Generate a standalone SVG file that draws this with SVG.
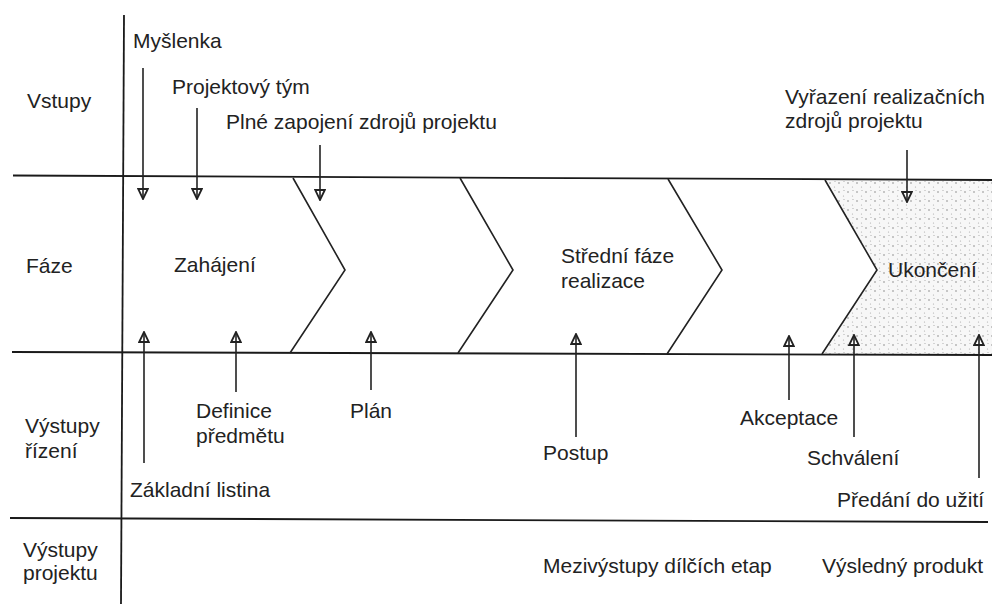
<svg xmlns="http://www.w3.org/2000/svg" width="994" height="604" viewBox="0 0 994 604">
<style>
text{font-family:"Liberation Sans",Arial,sans-serif;font-size:21px;fill:#222}
.ln{stroke:#1a1a1a;stroke-width:1.8;fill:none}
.ch{stroke:#222;stroke-width:1.6;fill:none;stroke-linejoin:miter}
.ar{stroke:#222;stroke-width:1.6;fill:none;marker-end:url(#tri)}
</style>
<defs>
<marker id="tri" viewBox="0 0 12 12" refX="11" refY="6" markerWidth="12" markerHeight="12" markerUnits="userSpaceOnUse" orient="auto">
<path d="M1,1.2 L11,6 L1,10.8 Z" fill="#fff" stroke="#222" stroke-width="1.8"/>
<path d="M1,6 L11,6" stroke="#222" stroke-width="1.6"/>
</marker>
<pattern id="stip" width="9" height="9" patternUnits="userSpaceOnUse">
<rect width="9" height="9" fill="#f7f7f7"/>
<circle cx="2" cy="3" r="0.8" fill="#888"/>
<circle cx="6.5" cy="7" r="0.6" fill="#aaa"/>
<circle cx="7" cy="1.5" r="0.5" fill="#999"/>
</pattern>
</defs>
<rect width="994" height="604" fill="#fff"/>
<g id="shaded-phase">
<polygon points="825,180 877,270 822,354 992,355 992,180" fill="url(#stip)"/>
</g>
<g id="grid">
<line class="ln" x1="124" y1="15" x2="121" y2="604"/>
<line class="ln" x1="13" y1="175.5" x2="992" y2="180"/>
<line class="ln" x1="12" y1="352" x2="992" y2="355"/>
<line class="ln" x1="10" y1="518" x2="988" y2="522"/>
</g>
<g id="chevrons">
<polyline class="ch" points="293,178 345,270 290,353"/>
<polyline class="ch" points="460,178 513,270 458,353"/>
<polyline class="ch" points="668,179 722,270 667,354"/>
<polyline class="ch" points="825,180 877,270 822,354"/>
</g>
<g id="row-labels">
<text x="27" y="108">Vstupy</text>
<text x="26" y="273">Fáze</text>
<text x="25" y="433">Výstupy</text>
<text x="25" y="458">řízení</text>
<text x="23" y="557">Výstupy</text>
<text x="23" y="580">projektu</text>
</g>
<g id="phase-zahajeni"><text x="174" y="272">Zahájení</text></g>
<g id="phase-stredni"><text x="561" y="263">Střední fáze</text><text x="561" y="288">realizace</text></g>
<g id="phase-ukonceni"><text x="888" y="277">Ukončení</text></g>
<g id="in-myslenka"><text x="133" y="48">Myšlenka</text></g>
<g id="in-tym"><text x="172" y="94">Projektový tým</text></g>
<g id="in-zapojeni"><text x="226" y="129">Plné zapojení zdrojů projektu</text></g>
<g id="in-vyrazeni"><text x="785" y="104">Vyřazení realizačních</text><text x="785" y="128">zdrojů projektu</text></g>
<g id="out-listina"><text x="130" y="497">Základní listina</text></g>
<g id="out-definice"><text x="196" y="418">Definice</text><text x="196" y="443">předmětu</text></g>
<g id="out-plan"><text x="350" y="418">Plán</text></g>
<g id="out-postup"><text x="543" y="460">Postup</text></g>
<g id="out-akceptace"><text x="740" y="425">Akceptace</text></g>
<g id="out-schvaleni"><text x="807" y="465">Schválení</text></g>
<g id="out-predani"><text x="837" y="507">Předání do užití</text></g>
<g id="prod-mezi"><text x="543" y="573">Mezivýstupy dílčích etap</text></g>
<g id="prod-vysledny"><text x="822" y="573">Výsledný produkt</text></g>
<g id="connectors">
<line class="ar" x1="143" y1="68" x2="143" y2="199"/>
<line class="ar" x1="197" y1="108" x2="197" y2="199"/>
<line class="ar" x1="320" y1="145" x2="320" y2="200"/>
<line class="ar" x1="907" y1="150" x2="907" y2="202"/>
<line class="ar" x1="144" y1="463" x2="144" y2="332"/>
<line class="ar" x1="236" y1="392" x2="236" y2="332"/>
<line class="ar" x1="371" y1="390" x2="371" y2="332"/>
<line class="ar" x1="576" y1="437" x2="576" y2="334"/>
<line class="ar" x1="789" y1="400" x2="789" y2="336"/>
<line class="ar" x1="854" y1="437" x2="854" y2="335"/>
<line class="ar" x1="979" y1="478" x2="979" y2="335"/>
</g>
</svg>
